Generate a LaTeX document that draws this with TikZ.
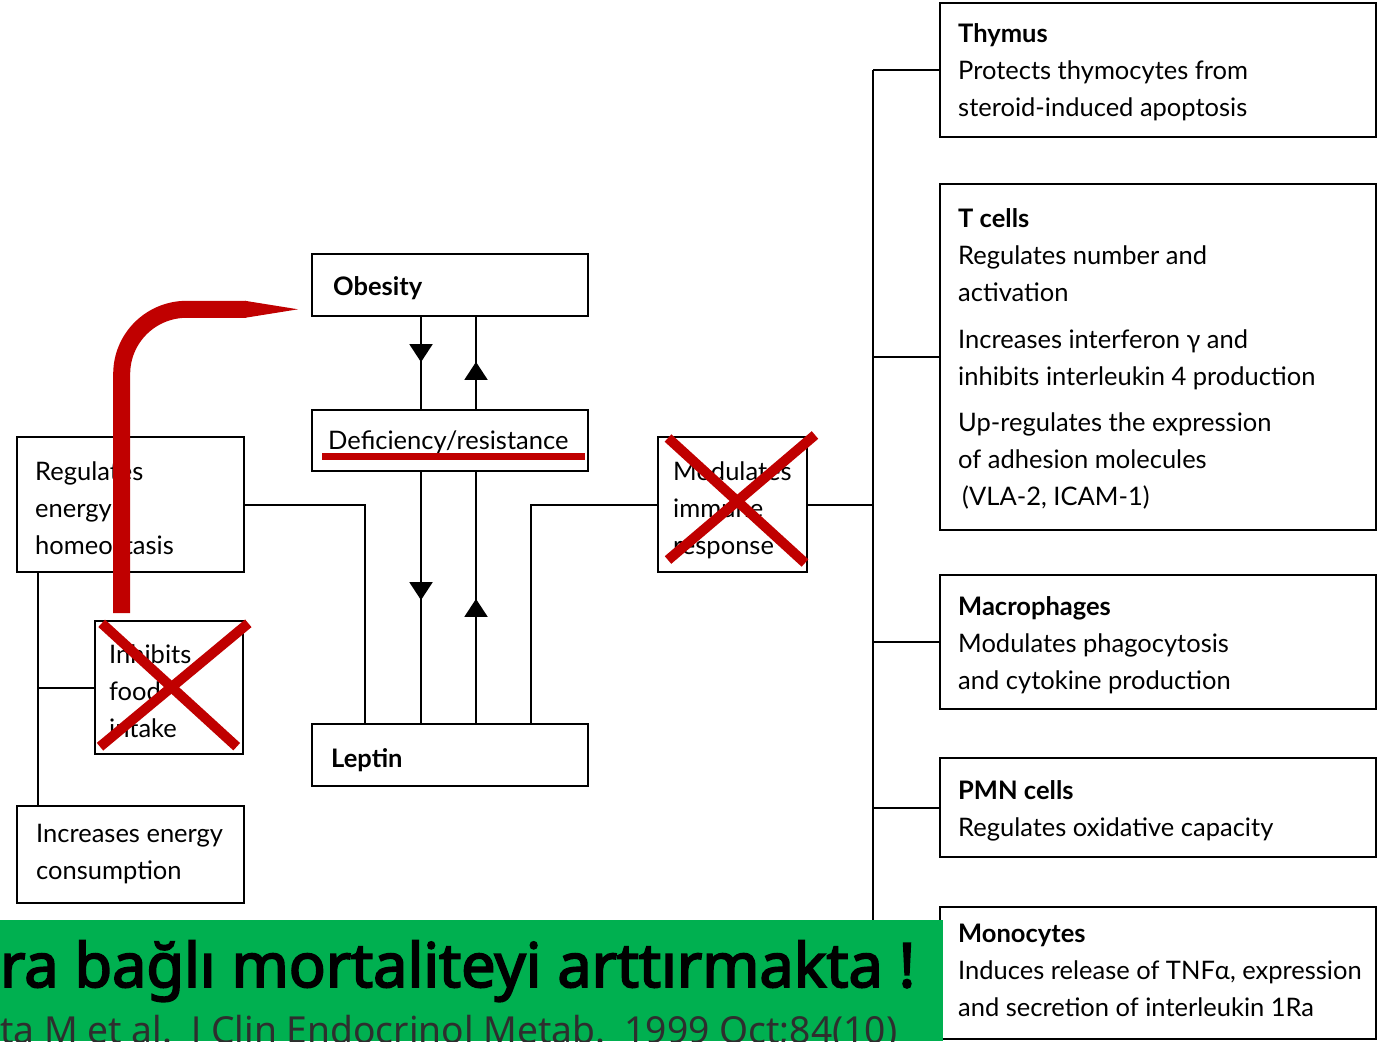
\documentclass[tikz,border=0pt]{standalone}
\usepackage{fontspec}
\setmainfont{Lato}
\newfontfamily\bannerfont{Noto Sans}
\newfontfamily\bannerbold[FakeBold=3]{Noto Sans}
\usetikzlibrary{arrows.meta,decorations.markings}
\definecolor{xred}{HTML}{C00000}
\definecolor{bgreen}{HTML}{00B050}
\definecolor{cite}{HTML}{2E2E2E}
\newcommand\dfont{\fontsize{25.5}{37}\selectfont}
\begin{document}
\begin{tikzpicture}[x=1pt,y=-1pt,
  box/.style={draw=black, line width=2.2pt, inner sep=0, fill=white},
  conn/.style={line width=2pt, draw=black},
  txt/.style={anchor=north west, inner sep=0, align=left, font=\dfont},
  redx/.style={draw=xred, line width=10pt},
  tipmark/.style={postaction={decorate}, decoration={markings, mark=at position #1 with {\arrow{Triangle[width=23pt,length=18pt]}}}}
]
\useasboundingbox (0,0) rectangle (1391,1041);
\fill[white] (0,0) rectangle (1391,1041);

% helper coordinates
\coordinate (vl) at (38,0);
\coordinate (xa) at (421,0);
\coordinate (xb) at (476,0);
\coordinate (xc) at (365,0);
\coordinate (xd) at (531,0);
\coordinate (bus) at (873,0);

% boxes
\node[box, minimum width=227pt, minimum height=135pt] (reg) at (130.5,504.5) {};
\node[box, minimum width=148pt, minimum height=133pt] (inh) at (169,687.5) {};
\node[box, minimum width=227pt, minimum height=97pt] (inc) at (130.5,854.5) {};
\node[box, minimum width=276pt, minimum height=62pt] (ob) at (450,285) {};
\node[box, minimum width=276pt, minimum height=61pt] (def) at (450,440.5) {};
\node[box, minimum width=276pt, minimum height=62pt] (lep) at (450,755) {};
\node[box, minimum width=149pt, minimum height=135pt] (mod) at (732.5,504.5) {};
\node[box, minimum width=436pt, minimum height=134pt] (thy) at (1158,70) {};
\node[box, minimum width=436pt, minimum height=346pt] (tc) at (1158,357) {};
\node[box, minimum width=436pt, minimum height=134pt] (mac) at (1158,642) {};
\node[box, minimum width=436pt, minimum height=99pt] (pmn) at (1158,807.5) {};
\node[box, minimum width=436pt, minimum height=132pt] (mono) at (1158,973) {};

% texts
\node[txt] (regt) at (35,454.1) {\strut Regulates\\ energy\\ homeostasis};
\node[txt] (inht) at (109,637.1) {\strut Inhibits\\ food\\ intake};
\node[txt] (inct) at (36,816.1) {\strut Increases energy\\ consumption};
\node[txt] (obt) at (333,269.1) {\strut\textbf{Obesity}};
\node[txt] (deft) at (328,423.1) {\strut Deficiency/resistance};
\node[txt] (lept) at (331,741.1) {\strut\textbf{Leptin}};
\node[txt] (modt) at (673,454.1) {\strut Modulates\\ immune\\ response};
\node[txt] (thyt) at (958,16.1) {\strut\textbf{Thymus}\\ Protects thymocytes from\\ steroid-induced apoptosis};
\node[txt] (tct) at (958,201.1) {\strut\textbf{T cells}\\ Regulates number and\\ activation\\[10pt] Increases interferon γ and\\ inhibits interleukin 4 production\\[9pt] Up-regulates the expression\\ of adhesion molecules\\ \hspace*{4pt}(VLA-2, ICAM-1)};
\node[txt] (mact) at (958,589.1) {\strut\textbf{Macrophages}\\ Modulates phagocytosis\\ and cytokine production};
\node[txt] (pmnt) at (958,773.1) {\strut\textbf{PMN cells}\\ Regulates oxidative capacity};
\node[txt] (monot) at (958,916.1) {\strut\textbf{Monocytes}\\ Induces release of TNFα, expression\\ and secretion of interleukin 1Ra};

% connectors
\draw[conn] (reg.south -| vl) -- (inc.north -| vl);
\draw[conn] (inh.west) -- (inh.west -| vl);
\draw[conn, tipmark=45pt] (ob.south -| xa) -- (def.north -| xa);
\draw[conn, tipmark=47pt] (def.north -| xb) -- (ob.south -| xb);
\draw[conn, tipmark=128pt] (def.south -| xa) -- (lep.north -| xa);
\draw[conn, tipmark=124pt] (lep.north -| xb) -- (def.south -| xb);
\draw[conn] (reg.east) -| (lep.north -| xc);
\draw[conn] (mod.west) -| (lep.north -| xd);
\draw[conn] (mod.east) -- (mod.east -| bus);
\draw[conn] (thy.west -| bus) -- (mono.west -| bus);
\foreach \b in {thy,tc,mac,pmn,mono} \draw[conn] (\b.west -| bus) -- (\b.west);

% red marks
\draw[xred, line width=7pt] (322,456.5) -- (585,456.5);
\draw[xred, line width=17pt] (121.7,613) -- (121.7,374) .. controls (121.7,338.1) and (150.8,309.3) .. (186.7,309.3) -- (246,309.3);
\fill[xred] (245,300.8) -- (298,309.3) -- (245,317.8) -- cycle;
\draw[redx] (668,438) -- (805,563);
\draw[redx] (815,435) -- (668,560);
\draw[redx] (101.7,623.3) -- (236.7,746.7);
\draw[redx] (248.3,623.3) -- (100,746.7);

% banner
\fill[bgreen] (0,920) rectangle (943,1041);
\node[anchor=base west, inner sep=0] (ban1) at (0,987) {\resizebox{915pt}{!}{\bannerbold\fontsize{55}{60}\selectfont ra bağlı mortaliteyi arttırmakta !}};
\node[anchor=base west, inner sep=0] (ban2) at (0,1043) {\resizebox{897pt}{!}{\bannerfont\fontsize{34}{40}\selectfont\color{cite}ta M et al.\ \ J Clin Endocrinol Metab.\ \ 1999 Oct;84(10)}};
\end{tikzpicture}
\end{document}
